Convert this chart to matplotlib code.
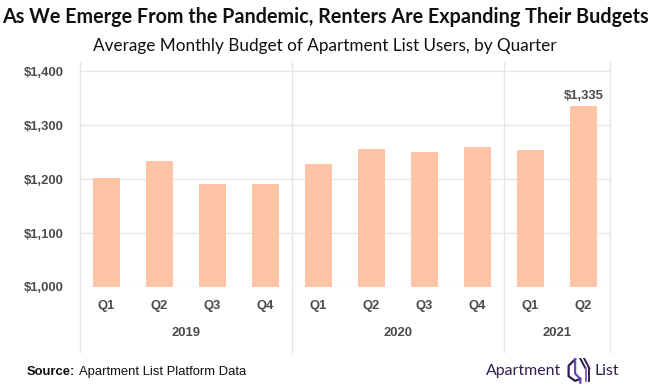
import numpy as np
import matplotlib
matplotlib.use("Agg")
import matplotlib.pyplot as plt
from matplotlib.transforms import blended_transform_factory

# ── data ─────────────────────────────────────────────────────────────
quarters = ["Q1", "Q2", "Q3", "Q4", "Q1", "Q2", "Q3", "Q4", "Q1", "Q2"]
years    = ["2019", "2020", "2021"]
year_n   = [4, 4, 2]
budget   = [1202, 1233, 1190, 1191, 1228, 1256, 1251, 1259, 1253, 1335]
yticks   = [1000, 1100, 1200, 1300, 1400]

BAR   = "#FFC3A5"
GRID  = "#E6E6E6"
LABEL = "#4A4A4A"
LOGO  = "#2E1F4F"
TICKFONT = dict(fontsize=9.4, fontweight="bold", color=LABEL, family="Liberation Sans")

fig = plt.figure(figsize=(6.5, 3.88), dpi=100)
ax = fig.add_axes([80 / 650, 1 - 287 / 388, 530 / 650, 225 / 388])

x = np.arange(len(budget))
ax.bar(x, budget, width=0.5, color=BAR, zorder=2)
ax.set_xlim(-0.5, len(budget) - 0.5)
ax.set_ylim(1000, 1417)

ax.set_yticks(yticks)
ax.set_yticklabels([f"${v:,}" for v in yticks], **TICKFONT)
ax.tick_params(axis="y", length=0, pad=12)
ax.set_xticks([])
for s in ax.spines.values():
    s.set_visible(False)
for v in yticks:
    ax.axhline(v, color=GRID, lw=1, zorder=1)

# last-bar value label
ax.text(x[-1], budget[-1] + 8, f"${budget[-1]:,}", ha="center", va="bottom", **TICKFONT)

# ── two-level category axis ─────────────────────────────────────────
tr = blended_transform_factory(ax.transData, ax.transAxes)
for xi, q in zip(x, quarters):
    ax.text(xi, -0.084, q, transform=tr, ha="center", va="center", **TICKFONT)

start = 0
bounds = [-0.5]
for yr, n in zip(years, year_n):
    ax.text(start + (n - 1) / 2, -0.205, yr, transform=tr, ha="center", va="center", **TICKFONT)
    start += n
    bounds.append(start - 0.5)
for b in bounds:
    ax.plot([b, b], [-0.29, 1], transform=tr, color=GRID, lw=1, clip_on=False, zorder=1)

# ── titles / footer ─────────────────────────────────────────────────
fig.text(0.5, 1 - 17 / 388, "As We Emerge From the Pandemic, Renters Are Expanding Their Budgets",
         ha="center", va="center", fontsize=14.2, family="Lato", fontweight="bold", color="#111111")
fig.text(0.5, 1 - 46 / 388, "Average Monthly Budget of Apartment List Users, by Quarter",
         ha="center", va="center", fontsize=12.3, family="Lato", color="#111111")

fig.text(27 / 650, 1 - 372 / 388, "Source:", ha="left", va="center",
         fontsize=9.4, family="Liberation Sans", fontweight="bold", color="#111111")
fig.text(79 / 650, 1 - 372 / 388, "Apartment List Platform Data", ha="left", va="center",
         fontsize=9.4, family="Liberation Sans", color="#111111")

fig.text(561 / 650, 1 - 371 / 388, "Apartment", ha="right", va="center",
         fontsize=11.4, family="Lato", color=LOGO)
fig.text(595 / 650, 1 - 371 / 388, "List", ha="left", va="center",
         fontsize=11.4, family="Lato", color=LOGO)
# small logo mark
lax = fig.add_axes([566 / 650, 1 - 384 / 388, 26 / 650, 26 / 388])
lax.set_xlim(0, 1)
lax.set_ylim(0, 1)
lax.axis("off")
lax.plot([0.35, 0.1, 0.1, 0.35, 0.55], [0.95, 0.7, 0.3, 0.12, 0.2], color="#2E1F4F", lw=1.6)
lax.plot([0.35, 0.35, 0.55, 0.55], [0.95, 0.4, 0.2, 0.05], color="#6A45B8", lw=1.6)
lax.plot([0.55, 0.75], [0.98, 0.6], color="#2E1F4F", lw=1.4)
lax.plot([0.7, 0.9], [0.98, 0.6], color="#2E1F4F", lw=1.4)
lax.plot([0.75, 0.75], [0.6, 0.1], color="#8A5CD6", lw=1.4)
lax.plot([0.9, 0.9], [0.6, 0.1], color="#2E1F4F", lw=1.4)

fig.savefig("out.png", dpi=100)
